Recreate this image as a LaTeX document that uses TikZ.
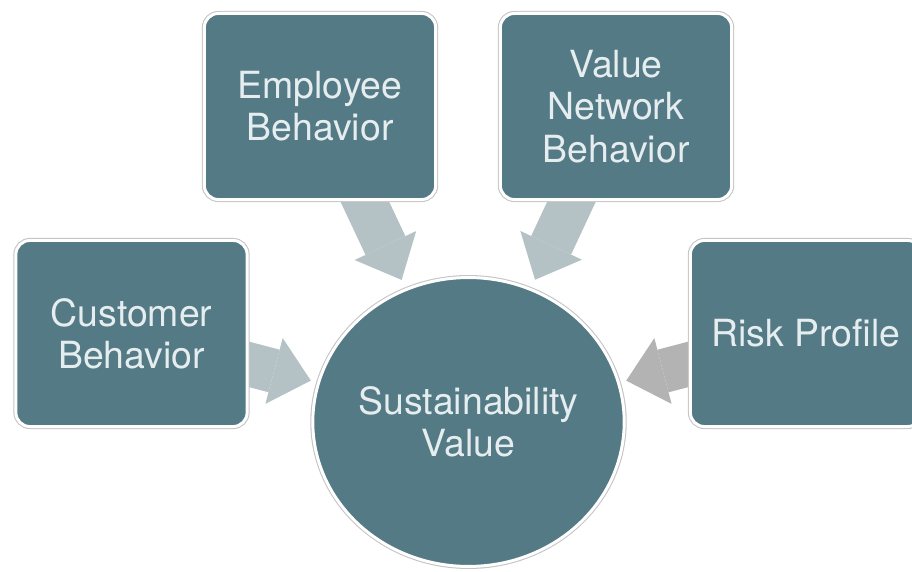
\documentclass[tikz,border=0pt]{standalone}
\usepackage{fontspec}
\setmainfont{TeX Gyre Heros}
\usetikzlibrary{arrows.meta, shapes.geometric, calc}

\pgfdeclarelayer{background}
\pgfsetlayers{background,main}

\definecolor{boxteal}{HTML}{537A85}
\definecolor{boxtext}{HTML}{E6EDEF}
\definecolor{rimgray}{HTML}{C4C4C4}
\definecolor{arrowblue}{HTML}{B4C1C5}
\definecolor{arrowgray}{HTML}{B3B3B3}

\tikzset{
    shapebase/.style={fill=boxteal, draw=white, line width=2.1pt,
        preaction={draw=rimgray, line width=3.6pt},
        text=boxtext, align=center, inner sep=0pt,
        font=\fontsize{26.6}{30}\selectfont},
    factor/.style={shapebase, rectangle, rounded corners=10pt,
        minimum width=5.78cm, minimum height=4.65cm},
    hub/.style={shapebase, ellipse, minimum width=7.78cm, minimum height=7.22cm},
    push/.style={line width=1.1cm,
        -{Triangle[length=0.95cm, width=1.7cm, line width=0pt]}},
}

\begin{document}
\begin{tikzpicture}[x=0.025cm, y=-0.025cm]
    \useasboundingbox (0,0) rectangle (912,571);
    \clip (0,0) rectangle (912,571);

    \node[hub] (sus) at (468.5,422) {Sustainability\\Value};

    \node[factor] (emp)  at (320,106.5) {Employee\\Behavior};
    \node[factor] (net)  at (616,106.5) {Value\\Network\\Behavior};
    \node[factor] (cust) at (131.5,333.5) {Customer\\Behavior};
    \node[factor] (risk) at (806,333.5) {Risk Profile};

    % block arrows sit behind the boxes
    \begin{pgfonlayer}{background}
        \draw[push, arrowblue] ($(emp)!0.2!(sus)$) -- ($(sus)!3.925cm!(emp)$);
        \draw[push, arrowblue] ($(net)!0.2!(sus)$) -- ($(sus)!3.925cm!(net)$);
        \draw[push, arrowblue] ($(cust)!0.2!(sus)$) -- ($(sus)!4.075cm!(cust)$);
        \draw[push, arrowgray] ($(risk)!0.2!(sus)$) -- ($(sus)!4.075cm!(risk)$);
    \end{pgfonlayer}

\end{tikzpicture}
\end{document}
